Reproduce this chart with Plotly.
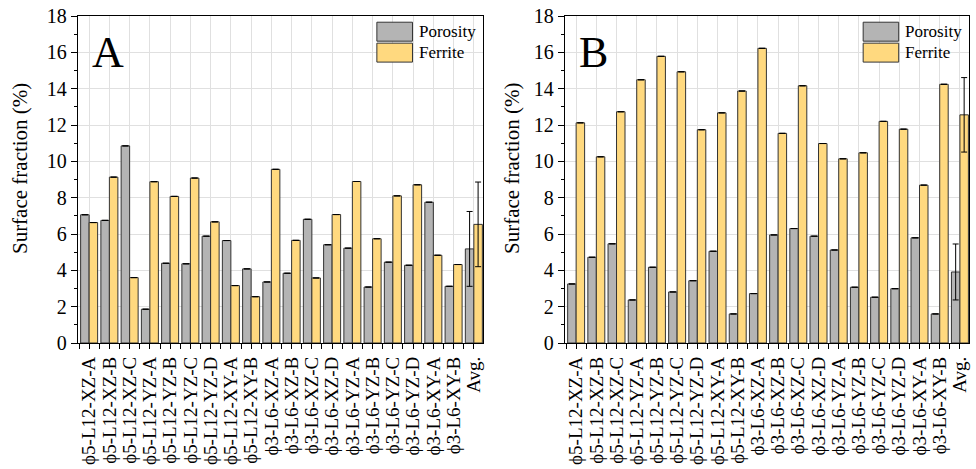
import plotly.graph_objects as go

labels = ["ϕ5-L12-XZ-A", "ϕ5-L12-XZ-B", "ϕ5-L12-XZ-C", "ϕ5-L12-YZ-A", "ϕ5-L12-YZ-B",
          "ϕ5-L12-YZ-C", "ϕ5-L12-YZ-D", "ϕ5-L12-XY-A", "ϕ5-L12-XY-B",
          "ϕ3-L6-XZ-A", "ϕ3-L6-XZ-B", "ϕ3-L6-XZ-C", "ϕ3-L6-XZ-D", "ϕ3-L6-YZ-A",
          "ϕ3-L6-YZ-B", "ϕ3-L6-YZ-C", "ϕ3-L6-YZ-D", "ϕ3-L6-XY-A", "ϕ3-L6-XY-B", "Avg."]

porosity_A = [7.06, 6.75, 10.85, 1.86, 4.39, 4.36, 5.88, 5.64, 4.08, 3.36,
              3.84, 6.81, 5.41, 5.22, 3.08, 4.45, 4.28, 7.75, 3.12, 5.18]
ferrite_A = [6.63, 9.13, 3.60, 8.88, 8.07, 9.08, 6.67, 3.16, 2.55, 9.56,
             5.65, 3.58, 7.07, 8.89, 5.74, 8.10, 8.71, 4.83, 4.32, 6.53]
porosity_A_err = [0] * 19 + [2.06]
ferrite_A_err = [0] * 19 + [2.33]

porosity_B = [3.25, 4.72, 5.46, 2.37, 4.17, 2.81, 3.43, 5.05, 1.60, 2.72,
              5.95, 6.30, 5.88, 5.12, 3.07, 2.52, 2.99, 5.79, 1.60, 3.91]
ferrite_B = [12.12, 10.25, 12.73, 14.49, 15.78, 14.93, 11.74, 12.67, 13.87, 16.22,
             11.54, 14.16, 10.98, 10.14, 10.47, 12.20, 11.77, 8.69, 14.24, 12.56]
porosity_B_err = [0] * 19 + [1.54]
ferrite_B_err = [0] * 19 + [2.05]

x = list(range(len(labels)))
GRAY = "#b4b4b4"
YELLOW = "#ffd97f"
EDGE = "#333333"
FONT = "Liberation Serif"

fig = go.Figure()

def add_panel(por, fer, perr, ferr, xa, ya):
    fig.add_trace(go.Bar(x=x, y=por, name="Porosity", marker=dict(color=GRAY, line=dict(color=EDGE, width=1)),
                         error_y=dict(type="data", array=perr, color="black", thickness=1, width=3),
                         xaxis=xa, yaxis=ya, showlegend=False))
    fig.add_trace(go.Bar(x=x, y=fer, name="Ferrite", marker=dict(color=YELLOW, line=dict(color=EDGE, width=1)),
                         error_y=dict(type="data", array=ferr, color="black", thickness=1, width=3),
                         xaxis=xa, yaxis=ya, showlegend=False))

add_panel(porosity_A, ferrite_A, porosity_A_err, ferrite_A_err, "x", "y")
add_panel(porosity_B, ferrite_B, porosity_B_err, ferrite_B_err, "x2", "y2")

xcommon = dict(range=[-0.55, 19.45], tickmode="array", tickvals=x, ticktext=labels, tickangle=-90,
               ticks="outside", ticklen=5, tickcolor="black", showline=True, linecolor="black", linewidth=1.3,
               mirror=True, showgrid=True, gridcolor="#e0e0e0", gridwidth=1, zeroline=False, automargin=False,
               tickfont=dict(family=FONT, size=19, color="black"),
               minor=dict(tick0=0.5, dtick=1, ticks="outside", ticklen=5, tickcolor="black", showgrid=False))
ycommon = dict(range=[0, 18], tickmode="linear", tick0=0, dtick=2, ticks="outside", ticklen=6,
               tickcolor="black", showline=True, linecolor="black", linewidth=1.3, mirror=True,
               showgrid=True, gridcolor="#e0e0e0", gridwidth=1, zeroline=False, automargin=False,
               tickfont=dict(family=FONT, size=20, color="black"),
               minor=dict(dtick=1, ticks="outside", ticklen=3, tickcolor="black", showgrid=False))

fig.update_layout(
    width=976, height=469,
    margin=dict(l=78, r=7, t=16, b=126),
    paper_bgcolor="white", plot_bgcolor="white",
    barmode="group", bargap=0.16, bargroupgap=0,
    xaxis=dict(domain=[0, 0.4545], anchor="y", **xcommon),
    yaxis=dict(domain=[0, 1], anchor="x", **ycommon),
    xaxis2=dict(domain=[0.5466, 1], anchor="y2", **xcommon),
    yaxis2=dict(domain=[0, 1], anchor="x2", **ycommon),
)

# y-axis titles
for px in [-0.0651, 0.487]:
    fig.add_annotation(x=px, y=0.535, xref="paper", yref="paper", text="Surface fraction (%)",
                       textangle=-90, showarrow=False, xanchor="center", yanchor="middle",
                       font=dict(family=FONT, size=21, color="black"))

# panel letters and legends
for xa, letter in [("x", "A"), ("x2", "B")]:
    yr = "y domain" if xa == "x" else "y2 domain"
    fig.add_annotation(x=0.03, y=0.97, xref=f"{xa} domain", yref=yr,
                       text=letter, showarrow=False, xanchor="left", yanchor="top",
                       font=dict(family=FONT, size=44, color="black"))
    for i, (nm, col) in enumerate([("Porosity", GRAY), ("Ferrite", YELLOW)]):
        y1 = 0.981 - i * 0.064
        fig.add_shape(type="rect", xref=f"{xa} domain", yref=yr, x0=0.738, x1=0.826, y0=y1 - 0.058, y1=y1,
                      fillcolor=col, line=dict(color=EDGE, width=1))
        fig.add_annotation(x=0.836, y=y1 - 0.029, xref=f"{xa} domain", yref=yr, text=nm, showarrow=False,
                           xanchor="left", yanchor="middle", font=dict(family=FONT, size=17, color="black"))

fig.write_html("out.html", config={"displayModeBar": False},
               post_script="document.body.style.margin='0';document.body.style.overflow='hidden';")
